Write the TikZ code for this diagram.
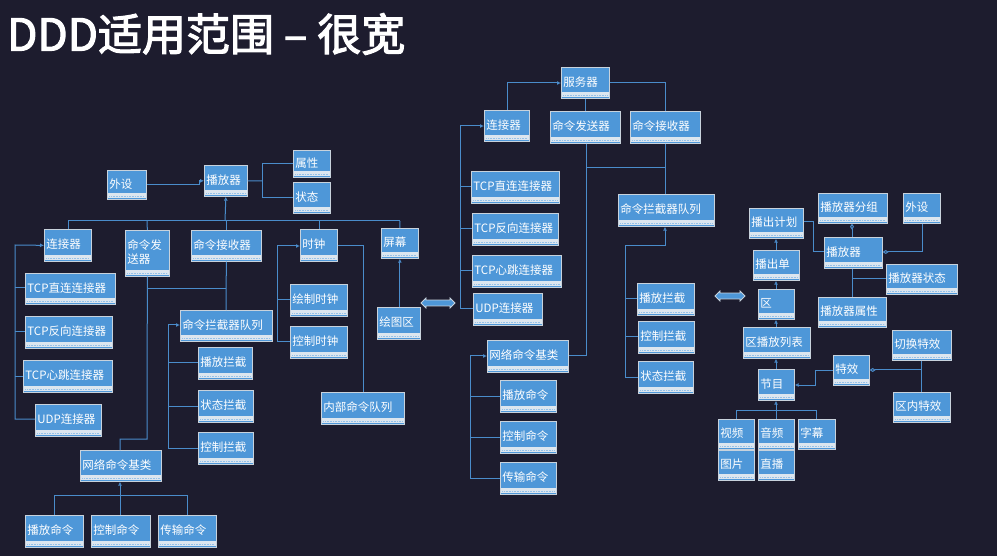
\documentclass[tikz,border=0pt]{standalone}
\usepackage{fontspec}
\newfontfamily\cjk[AutoFakeBold=2.5]{Noto Sans CJK SC}
\usetikzlibrary{arrows.meta,shapes.arrows}
\definecolor{bg}{HTML}{1D1C2E}
\definecolor{boxc}{HTML}{4E97D8}
\definecolor{strip}{HTML}{DCE6EF}
\definecolor{edge}{HTML}{C8D2DC}
\definecolor{ln}{HTML}{4A8CCB}
\tikzset{
 bx/.style={fill=boxc,draw=edge,line width=0.7pt,anchor=north west,inner sep=2pt,
   font=\cjk\fontsize{11.5}{14}\selectfont,text=white,align=left,
   path picture={\fill[strip] ([yshift=1pt]path picture bounding box.south west) rectangle ([yshift=6pt]path picture bounding box.south east);
     \draw[boxc!60,dash pattern=on 1pt off 0.6pt,line width=0.6pt] ([xshift=2pt,yshift=3pt]path picture bounding box.south west) -- ([xshift=-2pt,yshift=3pt]path picture bounding box.south east);}},
 cn/.style={draw=ln,line width=1pt},
 ar/.style={cn,{Latex[open,length=4pt,width=4pt]}-},
 dm/.style={cn,{Diamond[open,length=6pt,width=4pt]}-},
 dar/.style={double arrow,draw=edge,fill=boxc,line width=0.8pt,minimum height=34pt,minimum width=10pt,double arrow head extend=1pt,inner sep=1pt}
}
\newcommand\bx[6]{\node[bx,minimum width={(#4-#2)*1pt},minimum height={(#5-#3)*1pt},text width={(#4-#2-4)*1pt}] (#1) at (#2,#3) {\raisebox{3pt}{#6}};}
\begin{document}
\begin{tikzpicture}[x=1pt,y=-1pt]
\fill[bg] (0,0) rectangle (997,556);
\useasboundingbox (0,0) rectangle (997,556);
\node[anchor=west,text=white,font=\cjk\bfseries\fontsize{44}{50}\selectfont,inner sep=0] (title) at (7,34) {DDD适用范围 – 很宽};
% ---------- left ----------
\bx{lws}{107}{170}{146}{199}{外设}
\bx{lbf}{204}{165}{247}{196}{播放器}
\bx{lsx}{293}{150}{330}{177}{属性}
\bx{lzt}{293}{182}{330}{213}{状态}
\bx{llj}{44}{229}{91}{261}{连接器}
\bx{lfs}{125}{230}{169}{276}{\shortstack[l]{命令发\\送器}}
\bx{ljs}{191}{230}{261}{261}{命令接收器}
\bx{lsz}{300}{229}{337}{261}{时钟}
\bx{lpm}{381}{228}{418}{258}{屏幕}
\bx{lt1}{25}{273}{115}{304}{TCP直连连接器}
\bx{lt2}{25}{316}{112}{348}{TCP反向连接器}
\bx{lt3}{23}{360}{112}{392}{TCP心跳连接器}
\bx{lud}{35}{404}{101}{436}{UDP连接器}
\bx{llq}{180}{310}{272}{341}{命令拦截器队列}
\bx{lk1}{198}{347}{252}{379}{播放拦截}
\bx{lk2}{198}{390}{253}{422}{状态拦截}
\bx{lk3}{198}{432}{253}{464}{控制拦截}
\bx{lh1}{290}{284}{347}{316}{绘制时钟}
\bx{lh2}{290}{326}{347}{358}{控制时钟}
\bx{lht}{377}{307}{420}{339}{绘图区}
\bx{lnb}{321}{392}{404}{424}{内部命令队列}
\bx{lwl}{80}{450}{161}{481}{网络命令基类}
\bx{lc1}{25}{515}{83}{547}{播放命令}
\bx{lc2}{91}{515}{150}{547}{控制命令}
\bx{lc3}{158}{515}{216}{547}{传输命令}
% ---------- middle ----------
\bx{mfw}{561}{67}{609}{98}{服务器}
\bx{mlj}{484}{110}{529}{141}{连接器}
\bx{mfs}{550}{111}{620}{143}{命令发送器}
\bx{mjs}{630}{111}{700}{143}{命令接收器}
\bx{mt1}{471}{171}{559}{203}{TCP直连连接器}
\bx{mt2}{472}{213}{558}{245}{TCP反向连接器}
\bx{mt3}{472}{255}{561}{287}{TCP心跳连接器}
\bx{mud}{473}{293}{542}{325}{UDP连接器}
\bx{mlq}{618}{194}{714}{226}{命令拦截器队列}
\bx{mwl}{487}{340}{568}{372}{网络命令基类}
\bx{mc1}{500}{380}{556}{412}{播放命令}
\bx{mc2}{500}{421}{556}{453}{控制命令}
\bx{mc3}{500}{462}{556}{494}{传输命令}
\bx{mk1}{637}{283}{694}{315}{播放拦截}
\bx{mk2}{638}{321}{694}{353}{控制拦截}
\bx{mk3}{638}{361}{693}{393}{状态拦截}
% ---------- right ----------
\bx{rjh}{749}{208}{803}{238}{播出计划}
\bx{rfz}{818}{193}{887}{223}{播放器分组}
\bx{rws}{903}{193}{940}{223}{外设}
\bx{rbf}{824}{237}{882}{268}{播放器}
\bx{rcd}{753}{250}{799}{280}{播出单}
\bx{rzt}{886}{264}{957}{294}{播放器状态}
\bx{rq}{758}{289}{794}{319}{区}
\bx{rsx}{818}{297}{886}{327}{播放器属性}
\bx{rlb}{743}{327}{810}{358}{区播放列表}
\bx{rqh}{892}{330}{951}{360}{切换特效}
\bx{rtx}{833}{355}{869}{385}{特效}
\bx{rjm}{758}{369}{794}{400}{节目}
\bx{rqn}{893}{392}{950}{422}{区内特效}
\bx{rsp}{718}{419}{754}{449}{视频}
\bx{ryp}{758}{419}{794}{449}{音频}
\bx{rzm}{798}{419}{835}{449}{字幕}
\bx{rtp}{718}{450}{754}{480}{图片}
\bx{rzb}{758}{450}{794}{480}{直播}
% double arrows
\node[dar] (da1) at (438,303) {};
\node[dar,minimum height=30pt] (da2) at (730,296) {};
% ---------- left connectors ----------
\draw[ar] (lbf.west) -- ++(-5,0) |- (lws.east);
\draw[cn] (lbf.east) -- (262,181);
\draw[cn] (262,164) |- (lzt.west); \draw[cn] (262,164) -- (lsx.west |- 0,164);
\draw[ar] (lbf.south) -- (225,221);
\draw[cn] (68,221) -- (400,221);
\draw[cn] (68,221) -- (llj.north -| 68,0); \draw[cn] (lfs.north) -- (147,221);
\draw[cn] (226,221) -- (226,230); \draw[cn] (lsz.north -| 319,0) -- (319,221);
\draw[cn] (lpm.north) -- (400,221);
\draw[ar] (llj.west) -- (15,245) -- (15,419) -- (lud.west |- 0,419);
\draw[cn] (15,288) -- (lt1.west |- 0,288); \draw[cn] (15,332) -- (lt2.west |- 0,332);
\draw[cn] (15,376) -- (lt3.west |- 0,376);
\draw[cn] (lfs.south) -- (147,439) -- (120,439) -- (lwl.north -| 120,0);
\draw[cn] (147,289) -- (226,289);
\draw[cn] (ljs.south) -- (llq.north -| 226,0);
\draw[ar] (llq.west |- 0,325) -- (168,325) -- (168,448) -- (lk3.west |- 0,448);
\draw[cn] (168,363) -- (lk1.west |- 0,363); \draw[cn] (168,406) -- (lk2.west |- 0,406);
\draw[ar] (lsz.west |- 0,246) -- (277,246) -- (277,342) -- (lh2.west |- 0,342);
\draw[cn] (277,300) -- (lh1.west |- 0,300);
\draw[cn] (lsz.east |- 0,246) -- (363,246) -- (lnb.north -| 363,0);
\draw[ar] (lpm.south) -- (lht.north -| lpm.south);
\draw[ar] (lwl.south -| 120,0) -- (120,495);
\draw[cn] (54,495) -- (187,495);
\draw[cn] (54,495) -- (lc1.north -| 54,0); \draw[cn] (120,495) -- (lc2.north -| 120,0);
\draw[cn] (187,495) -- (lc3.north -| 187,0);
% ---------- middle connectors ----------
\draw[ar] (mfw.west |- 0,83) -- (507,83) -- (mlj.north -| 507,0);
\draw[cn] (mfw.south -| 585,0) -- (mfs.north -| 585,0);
\draw[cn] (mfw.east |- 0,83) -- (665,83) -- (mjs.north -| 665,0);
\draw[ar] (mlj.west |- 0,126) -- (460,126) -- (460,309) -- (mud.west |- 0,309);
\draw[cn] (460,187) -- (mt1.west |- 0,187); \draw[cn] (460,229) -- (mt2.west |- 0,229);
\draw[cn] (460,271) -- (mt3.west |- 0,271);
\draw[cn] (mfs.south -| 586,0) -- (586,356) -- (mwl.east |- 0,356);
\draw[cn] (586,168) -- (665,168);
\draw[cn] (mjs.south -| 665,0) -- (mlq.north -| 665,0);
\draw[ar] (mlq.south -| 665,0) -- (665,246) -- (625,246) -- (625,377) -- (mk3.west |- 0,377);
\draw[cn] (625,299) -- (mk1.west |- 0,299); \draw[cn] (625,337) -- (mk2.west |- 0,337);
\draw[ar] (mwl.west |- 0,356) -- (470,356) -- (470,478) -- (mc3.west |- 0,478);
\draw[cn] (470,396) -- (mc1.west |- 0,396); \draw[cn] (470,437) -- (mc2.west |- 0,437);
% ---------- right connectors ----------
\draw[cn] (rjh.east |- 0,222) -- (813,222) -- (813,252) -- (rbf.west |- 0,252);
\draw[dm] (rfz.south -| 852,0) -- (rbf.north -| 852,0);
\draw[dm] (rbf.east |- 0,252) -- (922,252) -- (rws.south -| 922,0);
\draw[cn] (rbf.south -| 852,0) -- (rsx.north -| 852,0);
\draw[cn] (852,279) -- (rzt.west |- 0,279);
\draw[ar] (rjh.south -| 776,0) -- (rcd.north -| 776,0);
\draw[ar] (rcd.south -| 776,0) -- (rq.north -| 776,0);
\draw[ar] (rq.south -| 776,0) -- (rlb.north -| 776,0);
\draw[ar] (rlb.south -| 776,0) -- (rjm.north -| 776,0);
\draw[ar] (rjm.east |- 0,385) -- (815,385) -- (815,371) -- (rtx.west |- 0,371);
\draw[dm] (rtx.east |- 0,370) -- (921,370);
\draw[cn] (rqh.south -| 921,0) -- (rqn.north -| 921,0);
\draw[ar] (rjm.south -| 776,0) -- (776,410);
\draw[cn] (736,410) -- (816,410);
\draw[cn] (736,410) -- (rsp.north -| 736,0); \draw[cn] (776,410) -- (ryp.north -| 776,0);
\draw[cn] (816,410) -- (rzm.north -| 816,0);
\end{tikzpicture}
\end{document}
